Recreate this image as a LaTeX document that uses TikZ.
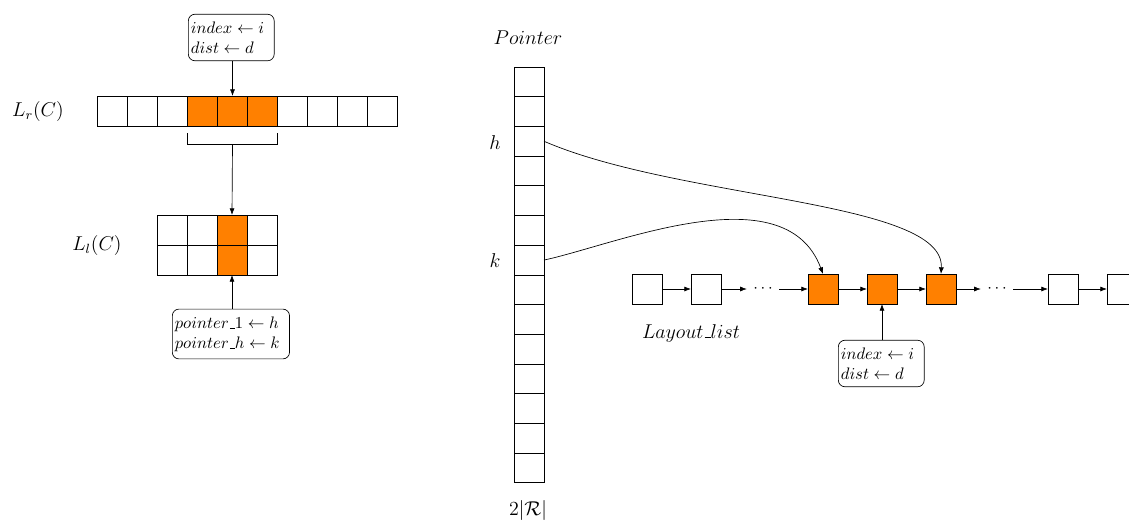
\documentclass[tikz,border=0pt]{standalone}
\usetikzlibrary{arrows.meta}
\definecolor{hiorange}{RGB}{255,128,0}
% low rule used as the underscore inside identifiers
\newcommand{\usc}{\mbox{\kern.06em\vbox{\hrule width.3em}}}
% trailing room at the right edge of a box line
\newcommand{\padr}{\hspace*{4.5pt}}
\begin{document}
\begin{tikzpicture}[x=0.6pt,y=-0.6pt,
  cell/.style={draw,minimum width=18pt,minimum height=18pt,inner sep=0pt,outer sep=0pt},
  pcell/.style={draw,minimum width=18pt,minimum height=17.82pt,inner sep=0pt,outer sep=0pt},
  hot/.style={fill=hiorange},
  infobox/.style={draw,rounded corners=4pt,align=left,inner xsep=1.5pt,inner ysep=4.5pt,anchor=west},
  lbl/.style={font=\large},
  arr/.style={-{Latex[length=4pt,width=3pt]}},
  dots/.style={inner sep=3pt,minimum width=19pt}]
\useasboundingbox (0,0) rectangle (1129,520);

% ---- L_r(C): one row of ten cells
\foreach \i in {1,...,10}{
  \node[cell] (r\i) at ({112.5+30*(\i-1)},111) {};
}
\foreach \i in {4,5,6}{ \node[cell,hot] at (r\i) {}; }
\node[lbl] (lr) at (38,111) {$L_r(C)$};

\node[infobox] (topbox) at (188,37.5) {$index \leftarrow i$\padr\\$dist \leftarrow d$\padr};
\draw[arr] (topbox.south -| r5.north) -- (r5.north);

% bracket under the selected cells
\coordinate (b1) at (r4.south west |- 0,133);
\coordinate (b2) at (r4.south west |- 0,144);
\coordinate (b3) at (r6.south east |- 0,144);
\coordinate (b4) at (r6.south east |- 0,133);
\coordinate (bm) at (r5.south |- 0,144);
\draw (b1) -- (b2) -- (b3) -- (b4);

% ---- L_l(C): two rows of four cells
\foreach \i in {1,...,4}{
  \node[cell] (la\i) at ({172+30*(\i-1)},230) {};
  \node[cell] (lb\i) at ({172+30*(\i-1)},260) {};
}
\node[cell,hot] at (la3) {};
\node[cell,hot] at (lb3) {};
\node[lbl] (ll) at (97,245) {$L_l(C)$};
\draw[arr] (bm) -- (la3.north);

\node[infobox] (botbox) at (172,334) {$pointer\usc1 \leftarrow h$\padr\\$pointer\usc h \leftarrow k$\padr};
\draw[arr] (botbox.north -| lb3.south) -- (lb3.south);

% ---- Pointer array: fourteen cells
\foreach \i in {1,...,14}{
  \node[pcell] (p\i) at (529,{81.85+29.7*(\i-1)}) {};
}
\node[lbl] (ptitle) at (528,38) {$Pointer$};
\node[lbl] (psize) at (528,510) {$2|\mathcal{R}|$};
\node[lbl] (hl) at (495,143) {$h$};
\node[lbl] (kl) at (495,261) {$k$};

% ---- Layout list
\node[cell] (n1) at (647,289) {};
\node[cell] (n2) at (706,289) {};
\node[dots] (d1) at (763,289) {$\cdots$};
\node[cell,hot] (o1) at (823,289) {};
\node[cell,hot] (o2) at (882,289) {};
\node[cell,hot] (o3) at (941,289) {};
\node[dots] (d2) at (997,289) {$\cdots$};
\node[cell] (n3) at (1063,289) {};
\node[cell] (n4) at (1122,289) {};
\node[lbl] (layout) at (691,333) {$Layout\usc list$};

\draw[arr] (n1) -- (n2);
\draw[arr] (n2) -- (d1);
\draw[arr] (d1) -- (o1);
\draw[arr] (o1) -- (o2);
\draw[arr] (o2) -- (o3);
\draw[arr] (o3) -- (d2);
\draw[arr] (d2) -- (n3);
\draw[arr] (n3) -- (n4);

\node[infobox] (listbox) at (838,363.5) {$index \leftarrow i$\padr\\$dist \leftarrow d$\padr};
\draw[arr] (listbox.north -| o2.south) -- (o2.south);

% pointer entries into the list
\draw[arr] (p3.east) .. controls (680,200) and (945,200) .. (o3.north);
\draw[arr] (p7.east) .. controls (615,245) and (785,172) .. (o1.north);
\end{tikzpicture}
\end{document}
